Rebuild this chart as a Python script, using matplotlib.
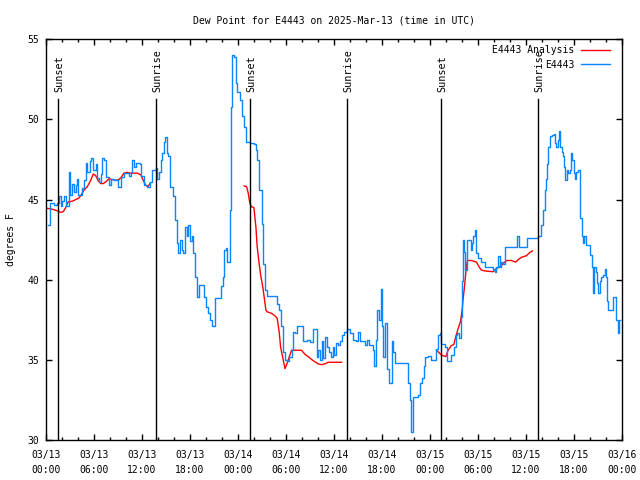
import matplotlib
matplotlib.use('Agg')
import matplotlib.pyplot as plt
import numpy as np

# Точка росы E4443, время в часах от 03/13 00:00 UTC

obs_hours = [0.25, 0.5, 1.0, 1.41, 1.63, 1.84, 2.04, 2.25, 2.46, 2.88, 3.0, 3.29, 3.5, 3.71, 3.91, 4.04,
             4.54, 4.75, 4.96, 5.16, 5.46, 5.66, 5.91, 6.21, 6.41, 6.63, 6.84, 6.96, 7.25, 7.46, 7.88, 8.09,
             8.5, 9.0, 9.34, 9.75, 10.38, 10.66, 10.79, 11.0, 11.21, 11.75, 11.91, 12.25, 12.66, 13.0, 13.29,
             13.71, 13.91, 14.13, 14.34, 14.54, 14.75, 14.84, 15.09, 15.25, 15.5, 15.91, 16.13, 16.34, 16.54,
             16.75, 16.96, 17.16, 17.38, 17.59, 17.79, 18.0, 18.21, 18.41, 18.63, 18.91, 19.16, 19.59, 19.79,
             20.0, 20.29, 20.5, 20.71, 20.91, 21.13, 21.54, 21.84, 22.09, 22.25, 22.5, 22.66, 22.88, 23.0,
             23.09, 23.21, 23.5, 23.75, 23.91, 24.25, 24.46, 24.75, 25.0, 25.5, 26.0, 26.25, 26.41, 26.66,
             26.96, 27.16, 27.38, 27.66, 28.63, 28.84, 29.16, 29.38, 29.59, 29.88, 30.09, 30.41, 30.71, 30.84,
             31.13, 31.41, 31.84, 32.09, 32.59, 33.0, 33.41, 33.63, 33.84, 34.04, 34.25, 34.46, 34.66, 34.88,
             35.09, 35.41, 35.59, 35.84, 36.0, 36.25, 36.54, 36.75, 36.96, 37.25, 37.66, 38.0, 38.41, 38.75,
             38.96, 39.25, 39.66, 39.88, 40.16, 40.41, 40.84, 41.0, 41.25, 41.41, 41.63, 41.84, 42.0, 42.16,
             42.38, 42.59, 42.84, 43.21, 43.41, 43.63, 45.09, 45.29, 45.5, 45.71, 45.91, 46.54, 46.75, 47.04,
             47.25, 47.46, 47.79, 48.09, 48.41, 48.75, 49.04, 49.25, 49.38, 49.88, 50.09, 50.41, 50.71, 51.0,
             51.25, 51.46, 51.66, 51.84, 52.0, 52.16, 52.29, 52.41, 52.59, 52.71, 52.91, 53.09, 53.25, 53.41,
             53.63, 53.75, 54.04, 54.46, 54.66, 54.88, 55.71, 55.91, 56.13, 56.34, 56.54, 56.75, 56.96, 57.16,
             57.38, 58.84, 58.96, 59.13, 60.0, 60.16, 60.5, 61.54, 61.75, 61.96, 62.16, 62.38, 62.5, 62.66,
             62.79, 63.0, 63.34, 63.5, 63.66, 63.84, 64.0, 64.16, 64.34, 64.5, 64.66, 64.79, 64.96, 65.13,
             65.29, 65.5, 65.66, 65.84, 66.0, 66.16, 66.34, 66.59, 66.84, 67.0, 67.16, 67.34, 67.5, 67.91,
             68.09, 68.25, 68.41, 68.59, 68.75, 68.91, 69.09, 69.25, 69.46, 69.66, 69.88, 70.0, 70.16, 70.34,
             70.71, 70.91, 71.21, 71.34, 71.54, 71.66, 71.84]
obs_dew = [43.4, 44.77, 44.66, 44.8, 45.2, 44.6, 44.9, 45.2, 44.6, 46.7, 45.3, 46.0, 45.5, 45.9, 46.3, 45.3,
           45.7, 46.2, 47.3, 46.7, 47.4, 47.6, 46.85, 47.2, 46.35, 46.1, 46.6, 47.6, 47.5, 46.4, 45.9, 46.3,
           46.2, 45.8, 46.4, 46.65, 46.5, 46.7, 47.5, 47.05, 47.3, 47.25, 46.5, 45.9, 45.8, 46.1, 46.85,
           46.95, 46.3, 46.75, 47.5, 47.9, 48.6, 48.9, 47.9, 47.7, 45.8, 45.2, 43.7, 42.3, 41.65,
           42.5, 41.85, 41.65, 43.3, 42.7, 43.4, 42.4, 42.7, 41.65, 40.2, 38.9, 39.7, 39.7, 38.9,
           38.3, 37.9, 37.5, 37.1, 37.1, 38.85, 38.85, 39.6, 40.2, 41.85, 42.0, 41.1, 41.1, 44.35,
           50.8, 54.0, 53.9, 52.25, 51.7, 51.2, 50.2, 49.55, 48.6, 48.5, 48.45, 48.1, 47.5, 45.6,
           43.5, 41.0, 39.35, 39.0, 39.0, 38.5, 38.1, 37.1, 35.5, 35.0, 34.9, 35.2, 35.6, 36.75,
           36.65, 37.1, 37.1, 36.15, 36.25, 36.1, 36.9, 36.9, 35.2, 35.6, 35.0, 36.15, 35.1, 36.45,
           35.8, 35.5, 35.2, 35.8, 35.3, 36.05, 35.9, 36.15, 36.55, 36.75, 36.9, 36.7, 36.25, 36.15,
           36.75, 36.15, 36.15, 35.9, 36.25, 35.95, 35.6, 34.6, 36.25, 38.1, 37.5, 39.45, 37.1, 35.2,
           37.3, 34.4, 33.55, 36.15, 35.5, 34.8, 34.8, 33.55, 32.5, 30.5, 32.7, 32.8, 33.55, 33.85,
           34.6, 35.2, 35.25, 35.0, 35.0, 35.65, 36.55, 36.7, 36.0, 35.8, 34.9, 34.9, 35.3, 35.8,
           36.55, 36.65, 36.35, 37.7, 39.9, 42.5, 41.75, 40.6, 42.05, 42.45, 42.45, 41.85, 42.3, 42.7,
           43.1, 41.65, 41.35, 41.1, 41.1, 40.8, 40.8, 40.6, 40.5, 40.8, 41.45, 40.8, 41.1, 41.0,
           42.05, 42.05, 42.7, 42.05, 42.05, 42.6, 42.6, 42.7, 42.7, 43.4, 44.35, 45.6, 46.3, 47.25,
           48.3, 48.95, 49.0, 49.1, 48.5, 48.3, 48.7, 49.25, 48.3, 48.0, 47.7, 47.05, 46.2, 46.85,
           46.65, 46.85, 47.9, 47.5, 46.65, 46.3, 46.75, 46.85, 43.85, 42.7, 42.3, 42.7, 42.15, 42.15,
           41.55, 40.8, 39.15, 40.8, 40.5, 39.8, 39.15, 39.9, 40.2, 40.3, 40.7, 40.2, 38.65, 38.1,
           38.1, 38.95, 38.95, 37.5, 36.65, 37.5, 37.5]

# Анализ - три отрезка
ana1_hours = [0.16, 0.79, 1.41, 1.84, 2.16, 2.46, 2.75, 3.29, 3.71, 4.13, 4.41, 4.75, 5.16, 5.59, 5.91,
              6.21, 6.5, 6.84, 7.16, 7.46, 7.88, 8.29, 8.71, 9.13, 9.41, 9.75, 10.16, 10.59, 11.41, 11.84,
              12.16, 12.46, 12.75, 13.0]
ana1_dew = [44.45, 44.4, 44.3, 44.2, 44.25, 44.5, 44.85, 44.9, 45.0, 45.1, 45.3, 45.6, 45.8, 46.2, 46.6,
            46.5, 46.2, 46.0, 46.0, 46.1, 46.3, 46.25, 46.2, 46.25, 46.4, 46.65, 46.7, 46.65, 46.65, 46.55,
            46.2, 45.9, 45.8, 46.0]
ana2_hours = [24.79, 25.09, 25.29, 25.5, 25.71, 26.0, 26.25, 26.41, 26.66, 26.84, 27.13, 27.5, 27.66,
              28.21, 28.63, 28.91, 29.16, 29.34, 29.59, 29.88, 30.09, 30.29, 30.71, 31.34, 31.96, 32.38,
              32.79, 33.41, 34.04, 34.46, 34.88, 35.29, 36.96]
ana2_dew = [45.85, 45.8, 45.4, 44.75, 44.55, 44.5, 43.3, 42.05, 41.0, 40.3, 39.5, 38.1, 38.0,
            37.9, 37.75, 37.6, 36.75, 35.8, 35.2, 34.45, 34.7, 35.0, 35.6, 35.6, 35.6, 35.35,
            35.2, 34.95, 34.75, 34.7, 34.75, 34.85, 34.85]
ana3_hours = [48.84, 49.46, 50.0, 50.29, 50.71, 51.0, 51.25, 51.54, 51.84, 52.04, 52.16, 52.29, 52.46,
              52.59, 52.71, 53.21, 53.84, 54.16, 54.46, 54.88, 55.91, 56.34, 56.75, 57.16, 57.59, 58.21,
              58.75, 59.04, 59.46, 60.09, 60.5, 60.84]
ana3_dew = [35.6, 35.3, 35.2, 35.6, 35.9, 35.95, 36.45, 36.95, 37.4, 38.1, 38.75, 39.35, 40.2,
            40.9, 41.2, 41.2, 41.1, 40.8, 40.6, 40.55, 40.5, 40.7, 40.8, 41.0, 41.2, 41.2,
            41.1, 41.25, 41.4, 41.5, 41.7, 41.8]

sun_hours = [1.54, 13.79, 25.54, 37.66, 49.41, 61.54]
sun_names = ['Sunset', 'Sunrise', 'Sunset', 'Sunrise', 'Sunset', 'Sunrise']

tick_hours = list(range(0, 73, 6))
tick_names = ['03/13\n00:00', '03/13\n06:00', '03/13\n12:00', '03/13\n18:00',
              '03/14\n00:00', '03/14\n06:00', '03/14\n12:00', '03/14\n18:00',
              '03/15\n00:00', '03/15\n06:00', '03/15\n12:00', '03/15\n18:00',
              '03/16\n00:00']

plt.rcParams['font.family'] = 'DejaVu Sans Mono'
plt.rcParams['font.size'] = 7

fig = plt.figure(figsize=(6.4, 4.8), dpi=100, facecolor='white')
ax = fig.add_axes([0.0719, 0.0833, 0.8995, 0.8348])

red = '#ff0000'
blue = '#0a84ff'
ax.plot(ana1_hours, ana1_dew, color=red, lw=1.0, label='E4443 Analysis')
ax.plot(ana2_hours, ana2_dew, color=red, lw=1.0)
ax.plot(ana3_hours, ana3_dew, color=red, lw=1.0)
ax.plot(obs_hours, obs_dew, color=blue, lw=1.0, drawstyle='steps-post', label='E4443')

for h, name in zip(sun_hours, sun_names):
    ax.plot([h, h], [30, 51.28], color='black', lw=1.0)
    ax.text(h + 0.12, 51.7, name, rotation=90, ha='center', va='bottom', fontsize=7.3)

ax.set_xlim(0, 72)
ax.set_ylim(30, 55)
ax.set_xticks(tick_hours)
ax.set_xticklabels(tick_names)
ax.set_xticks(range(0, 73, 2), minor=True)
ax.set_yticks(range(30, 56, 5))
for lbl in ax.get_xticklabels():
    lbl.set_linespacing(1.6)
ax.tick_params(which='both', direction='in', top=True, right=True, width=1.0)
ax.tick_params(which='major', length=4)
ax.tick_params(which='minor', length=2)
ax.tick_params(axis='x', pad=7)
ax.tick_params(axis='y', pad=5)
for s in ax.spines.values():
    s.set_linewidth(1.0)

ax.set_title('Dew Point for E4443 on 2025-Mar-13 (time in UTC)', pad=11.5, fontsize=7)
ax.set_ylabel('degrees F', labelpad=8)
ax.legend(loc='upper right', bbox_to_anchor=(0.98, 0.985), frameon=False, markerfirst=False,
          handlelength=3.0, borderaxespad=0, borderpad=0, labelspacing=0.45, handletextpad=0.7)

fig.savefig('out.png', dpi=100)
